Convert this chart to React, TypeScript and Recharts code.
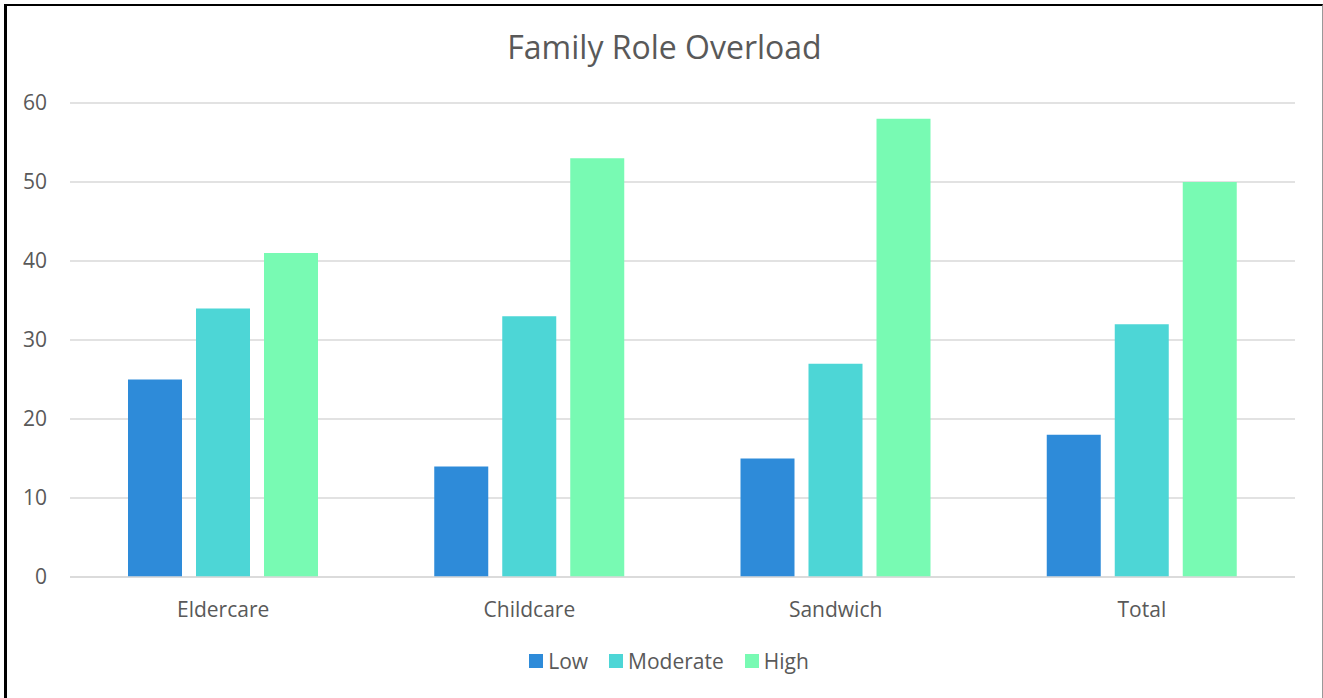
import React from "react";
import { BarChart, Bar, XAxis, YAxis, CartesianGrid, Legend } from "recharts";

// Share of respondents by overload level, per caregiving group
const groups = ["Eldercare", "Childcare", "Sandwich", "Total"];
const lowValues = [25, 14, 15, 18];
const moderateValues = [34, 33, 27, 32];
const highValues = [41, 53, 58, 50];
const yTicks = [0, 10, 20, 30, 40, 50, 60];

const series = [
  { key: "low", name: "Low", color: "#2E8BD9" },
  { key: "moderate", name: "Moderate", color: "#4DD6D6" },
  { key: "high", name: "High", color: "#78FAB3" },
];

const data = groups.map((group, i) => ({
  group,
  low: lowValues[i],
  moderate: moderateValues[i],
  high: highValues[i],
}));

const FONT = "'Open Sans', sans-serif";
const TEXT = "#595959";
const GRID = "#D9D9D9";

function LegendRow() {
  return (
    <div
      style={{
        display: "flex",
        justifyContent: "center",
        alignItems: "center",
        height: 24,
        paddingLeft: 43,
        fontFamily: FONT,
        fontSize: 21,
        color: TEXT,
      }}
    >
      {series.map((s, i) => (
        <div
          key={s.key}
          style={{ display: "flex", alignItems: "center", marginLeft: i ? 21 : 0 }}
        >
          <span style={{ width: 14, height: 14, background: s.color, marginRight: 5 }} />
          <span style={{ lineHeight: "24px" }}>{s.name}</span>
        </div>
      ))}
    </div>
  );
}

export default function App() {
  return (
    <div
      style={{
        position: "fixed",
        left: 0,
        top: 0,
        width: 1323,
        height: 698,
        background: "#fff",
        overflow: "hidden",
      }}
    >
      <div
        style={{
          position: "absolute",
          left: 4,
          top: 4,
          width: 1315,
          height: 700,
          borderLeft: "3px solid #000",
          borderTop: "2px solid #000",
          borderRight: "1px solid #999",
        }}
      />
      <div
        style={{
          position: "absolute",
          left: 0,
          top: 31,
          width: 1323,
          paddingLeft: 6,
          boxSizing: "border-box",
          textAlign: "center",
          fontFamily: FONT,
          fontSize: 32,
          lineHeight: 1,
          color: TEXT,
        }}
      >
        Family Role Overload
      </div>
      <BarChart
        width={1323}
        height={698}
        data={data}
        margin={{ top: 103, right: 28, left: 0, bottom: 25 }}
        barSize={54}
        barGap={14}
        style={{ fontFamily: FONT }}
      >
        <CartesianGrid vertical={false} stroke={GRID} strokeWidth={1.5} />
        <XAxis
          dataKey="group"
          height={72}
          tickSize={0}
          tickMargin={25}
          axisLine={{ stroke: GRID, strokeWidth: 1.5 }}
          tick={{ fill: TEXT, fontSize: 21 }}
        />
        <YAxis
          width={70}
          domain={[0, 60]}
          ticks={yTicks}
          tickSize={0}
          tickMargin={23}
          axisLine={false}
          tick={{ fill: TEXT, fontSize: 21 }}
        />
        <Legend verticalAlign="bottom" content={() => <LegendRow />} />
        {series.map((s) => (
          <Bar
            key={s.key}
            dataKey={s.key}
            name={s.name}
            fill={s.color}
            isAnimationActive={false}
          />
        ))}
      </BarChart>
    </div>
  );
}
